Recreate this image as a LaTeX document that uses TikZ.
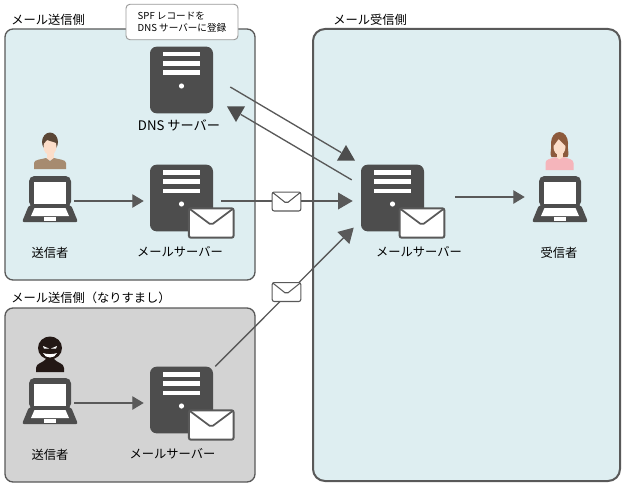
\documentclass[tikz,border=0pt]{standalone}
\usepackage{fontspec}
\setmainfont{Noto Sans CJK JP}
\usetikzlibrary{arrows.meta,shapes.geometric}
\definecolor{icondark}{HTML}{4D4D4D}
\definecolor{linegray}{HTML}{595959}
\definecolor{panelblue}{HTML}{DEEEF1}
\definecolor{panelgray}{HTML}{D3D3D3}
\definecolor{skin}{HTML}{FBDDC9}
\definecolor{manhair}{HTML}{5A4636}
\definecolor{manshirt}{HTML}{A68B70}
\definecolor{womanhair}{HTML}{8C5A3C}
\definecolor{womanshirt}{HTML}{F5B5BB}
\definecolor{hackerdark}{HTML}{231815}
\tikzset{
  groupbox/.style={draw=linegray,line width=1pt,rounded corners=6pt,inner sep=0pt},
  srvbox/.style={fill=icondark,rounded corners=5pt,minimum width=47.25pt,minimum height=50pt,inner sep=0pt},
  pcbox/.style={minimum width=42pt,minimum height=34.5pt,inner sep=0pt},
  mailbox/.style={draw=linegray,fill=white,rounded corners=1.5pt,inner sep=0pt,
    path picture={\draw[linegray,line width=#1] (path picture bounding box.north west)
      -- ([yshift=-1.5pt]path picture bounding box.center) -- (path picture bounding box.north east);}},
  bigmail/.style={mailbox=1.3pt,line width=1.5pt,minimum width=33.5pt,minimum height=22pt},
  smallmail/.style={mailbox=0.8pt,line width=0.8pt,minimum width=21.5pt,minimum height=14.2pt},
  lbl/.style={font=\fontsize{9.2}{11}\selectfont,text=black,inner sep=0pt},
  notebox/.style={draw=gray!80,fill=white,rounded corners=3pt,line width=0.7pt,align=left,
    minimum width=84pt,minimum height=26.6pt,inner sep=0pt,font=\fontsize{7.2}{9}\selectfont},
  conn/.style={draw=linegray,line width=1pt},
  connarrow/.style={conn,line width=0.85pt,-{Triangle[length=8.5pt,width=10pt]}},
  connbig/.style={conn,-{Triangle[length=11pt,width=12.5pt]}},
  headtip/.style={regular polygon,regular polygon sides=3,fill=icondark,inner sep=0pt,minimum size=15.6pt},
  pics/srvmark/.style={code={
    \fill[white] (-18.5,-28) rectangle (18.5,-23.5);
    \fill[white] (-18.5,-19) rectangle (18.5,-14);
    \fill[white] (-18.5,-9.5) rectangle (18.5,-5);
    \fill[white] (0,6) circle (2.6);
  }},
  pics/laptop/.style={code={
    \fill[icondark,rounded corners=4pt] (-21,8) -- (-21,-23) -- (21,-23) -- (21,8) -- cycle;
    \fill[white] (-16,-17) rectangle (16,5);
    \fill[icondark,rounded corners=1.5pt] (-21,6) -- (21,6) -- (28,23) -- (-28,23) -- cycle;
    \fill[white] (-15.5,9) -- (15.5,9) -- (19,17) -- (-19,17) -- cycle;
    \fill[white] (-6,18) rectangle (6,22);
  }},
  pics/man/.style={code={
    \fill[manhair] (0,-8) ellipse (8 and 9.5);
    \fill[skin] (-3.5,0) rectangle (3.5,10);
    \fill[skin] (0,-3.5) ellipse (6.5 and 8.5);
    \fill[manhair] (-6.5,-6) -- (-3,-10) -- (6.5,-7) -- (6,-14) -- (-5,-14) -- cycle;
    \fill[manshirt] (-16,19) -- (-16,13) .. controls (-16,9.5) and (-9,9.5) .. (-4,8)
      -- (0,11) -- (4,8) .. controls (9,9.5) and (16,9.5) .. (16,13) -- (16,19) -- cycle;
  }},
  pics/woman/.style={code={
    \fill[womanhair] (0,-7) ellipse (8.5 and 11);
    \fill[womanhair] (-8.5,-7) .. controls (-8,2) and (-10,4) .. (-8,7) -- (8,7)
      .. controls (10,4) and (8,2) .. (8.5,-7) -- cycle;
    \fill[skin] (-3,0) rectangle (3,10);
    \fill[skin] (0,-3) ellipse (6 and 8);
    \fill[womanhair] (-6,-4) -- (-1,-11) -- (6,-4) -- (6,-14) -- (-6,-14) -- cycle;
    \fill[womanshirt] (-14,20) -- (-14,13) .. controls (-14,9) and (-9,9) .. (-4,7)
      -- (0,9.5) -- (4,7) .. controls (9,9) and (14,9) .. (14,13) -- (14,20) -- cycle;
  }},
  pics/hacker/.style={code={
    \fill[hackerdark] (0,-2) ellipse (12 and 11.5);
    \fill[hackerdark] (-14,22) -- (-14,18) .. controls (-14,13) and (-7,13) .. (-4,9)
      -- (4,9) .. controls (7,13) and (14,13) .. (14,18) -- (14,22) -- cycle;
    \fill[white] (-7,-4) -- (-1,-1.5) -- (-6,-1.5) -- cycle;
    \fill[white] (7,-4) -- (1,-1.5) -- (6,-1.5) -- cycle;
    \fill[white] (-7,3) .. controls (-3,4.5) and (3,4.5) .. (7,3)
      .. controls (5,9) and (-5,9) .. (-7,3) -- cycle;
  }},
}
\begin{document}
\begin{tikzpicture}[x=0.75pt,y=-0.75pt]
\useasboundingbox (0,0) rectangle (624,492);

% Panels
\node[groupbox,fill=panelblue,minimum width=187.5pt,minimum height=188.25pt] (sendpanel) at (130,154.5) {};
\node[groupbox,fill=panelgray,minimum width=187.5pt,minimum height=130.5pt] (spoofpanel) at (130,395) {};
\node[groupbox,fill=panelblue,line width=1.5pt,rounded corners=9pt,minimum width=230.25pt,minimum height=339pt] (recvpanel) at (466.5,255) {};

% Panel titles
\node[lbl,anchor=west] (sendtitle) at (11,20) {メール送信側};
\node[lbl,anchor=west] (spooftitle) at (11,298) {メール送信側（なりすまし）};
\node[lbl,anchor=west] (recvtitle) at (333,20) {メール受信側};

% Note
\node[notebox] (spfnote) at (182,22) {SPF レコードを\\DNS サーバーに登録};

% DNS server
\node[srvbox] (dnssrv) at (181.5,80) {};
\pic at (dnssrv) {srvmark};
\node[lbl,font=\fontsize{9.9}{11}\selectfont] (dnslbl) at (179,125) {DNS サーバー};

% Sender
\pic at (50,150) {man};
\node[pcbox] (sndpc) at (50,199) {};
\pic at (sndpc) {laptop};
\node[lbl] (sndlbl) at (50,253) {送信者};

\node[srvbox] (sndsrv) at (181.5,198) {};
\pic at (sndsrv) {srvmark};
\node[bigmail] (sndmail) at (211.25,223) {};
\node[lbl] (sndsrvlbl) at (180,252) {メールサーバー};

% Spoofer
\pic at (50,350) {hacker};
\node[pcbox] (spfpc) at (50,401) {};
\pic at (spfpc) {laptop};
\node[lbl] (spflbl) at (50,455) {送信者};

\node[srvbox] (spfsrv) at (181.5,400) {};
\pic at (spfsrv) {srvmark};
\node[bigmail] (spfmail) at (211.25,425) {};
\node[lbl] (spfsrvlbl) at (172.5,454) {メールサーバー};

% Receiver
\node[srvbox] (rcvsrv) at (392.5,198) {};
\pic at (rcvsrv) {srvmark};
\node[bigmail] (rcvmail) at (422,223) {};
\node[lbl] (rcvsrvlbl) at (419,252) {メールサーバー};

\pic at (559.5,150) {woman};
\node[pcbox] (rcvpc) at (560,199) {};
\pic at (rcvpc) {laptop};
\node[lbl] (rcvlbl) at (559,253) {受信者};

% Odd arrow heads of the DNS lookup
\node[headtip] (dnsquery) at (346,155.4) {};
\node[headtip,shape border rotate=180] (dnsanswer) at (236,111.6) {};

% Connectors
\draw[connarrow] ([shift={(-4,2)}]sndpc.east) -- ([shift={(-6,3)}]sndsrv.west);
\draw[connarrow] ([shift={(-4,2)}]spfpc.east) -- ([shift={(-6,3)}]spfsrv.west);
\draw[connarrow] ([shift={(31,-1)}]rcvsrv.east) -- ([shift={(-7,-2)}]rcvpc.west);
\draw[connbig] ([shift={(8,3)}]sndsrv.east) -- ([shift={(-8,3)}]rcvsrv.west);
\draw[connbig] ([shift={(2,0)}]spfsrv.north east) -- ([shift={(-7,-4)}]rcvsrv.south west);
\draw[conn] ([shift={(17,7)}]dnssrv.east) -- (dnsquery);
\draw[conn] ([shift={(-9,15.5)}]rcvsrv.north west) -- (dnsanswer);

% Mail on the wire
\node[smallmail] (wiremail) at (286.5,201.5) {};
\node[smallmail] (spoofwiremail) at (286.5,292) {};

\end{tikzpicture}
\end{document}
